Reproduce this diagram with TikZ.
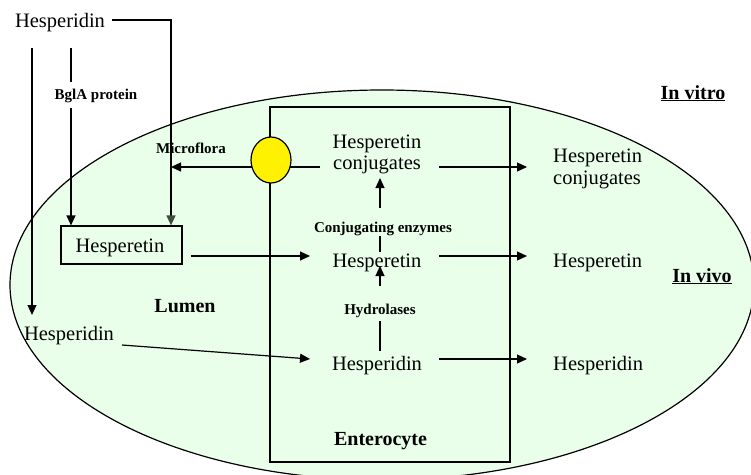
\documentclass[tikz,border=0pt]{standalone}
\usepackage{fontspec}
\setmainfont{Liberation Serif}
\usetikzlibrary{arrows.meta,shapes.geometric}
\definecolor{lumen}{RGB}{234,255,234}
\definecolor{tipgray}{RGB}{60,78,60}
\begin{document}
\begin{tikzpicture}[x=1pt,y=-1pt,
  txt/.style={font=\fontsize{20.5}{22}\selectfont, inner sep=0pt, align=center},
  lab/.style={font=\fontsize{15}{16}\selectfont\bfseries, inner sep=0pt},
  big/.style={font=\fontsize{20}{22}\selectfont\bfseries, inner sep=0pt},
  conn/.style={line width=1.2pt},
  arr/.style={conn, -{Triangle[length=10pt,width=9pt]}}]
\useasboundingbox (0,0) rectangle (751,474);
% lumen ellipse
\fill[lumen, draw=black, line width=1.2pt] (382,285) ellipse [x radius=372, y radius=195];
% enterocyte
\node[draw, line width=1.2pt, minimum width=240, minimum height=355, inner sep=0pt] (ent) at (390,284.5) {};
% texts
\node[txt, anchor=base] (hdTop) at (60,27) {Hesperidin};
\node[draw, line width=1.2pt, fill=lumen, minimum width=121, minimum height=38, inner sep=0pt] (box) at (121.5,245) {};
\node[txt, anchor=base] (heBox) at (120,252) {Hesperetin};
\node[txt, anchor=base] (hdL) at (69,340) {Hesperidin};
\node[txt, anchor=base] (hcC1) at (377,148) {Hesperetin};
\node[txt, anchor=base] (hcC2) at (377,169) {conjugates};
\node[txt, anchor=base] (heC) at (377,267) {Hesperetin};
\node[txt, anchor=base] (hdC) at (377,370) {Hesperidin};
\node[txt, anchor=base west] (hcR1) at (553,162) {Hesperetin};
\node[txt, anchor=base west] (hcR2) at (553,184) {conjugates};
\node[txt, anchor=base west] (heR) at (553,267) {Hesperetin};
\node[txt, anchor=base west] (hdR) at (553,370) {Hesperidin};
\node[lab, anchor=base] (bgl) at (96,99) {BglA protein};
\node[lab, anchor=base] (micro) at (191,153) {Microflora};
\node[lab, anchor=base] (conj) at (383,232) {Conjugating enzymes};
\node[lab, anchor=base] (hydro) at (380,314) {Hydrolases};
\node[big, anchor=base] (lumenlab) at (185,312) {Lumen};
\node[big, anchor=base] (entlab) at (380.5,445) {Enterocyte};
\node[big, anchor=base] (vitro) at (693,99) {\underline{In vitro}};
\node[big, anchor=base] (vivo) at (702,282) {\underline{In vivo}};
% coordinates
\coordinate (topL) at (112,20);
\coordinate (topR) at (171,20);
\coordinate (mfEnd) at (171,167);
\coordinate (hcW) at (320,167);
\coordinate (hcE) at (439,167);
\coordinate (hcRW) at (527,167);
% connectors
\draw[conn, -{Triangle[length=10pt,width=9pt,fill=tipgray,color=tipgray]}] (topL) -- (topR) -- (topR |- box.north);
\draw[arr] (32,48) -- (32,315);
\draw[conn] (71,48) -- (71,82);
\draw[arr] (71,108) -- (71,0 |- box.north);
\draw[arr] (hcW) -- (mfEnd);
\draw[arr] (hcE) -- (hcRW);
\draw[arr] (box.east |- 0,256) ++(8,0) -- (310,256);
\draw[arr] (439,256) -- (527,256);
\draw[arr] (122,345) -- (310,359);
\draw[arr] (439,359) -- (527,359);
\draw[conn] (380,351) -- (380,321);
\draw[arr] (380,286) -- (380,266);
\draw[conn] (380,252) -- (380,236);
\draw[arr] (380,208) -- (380,178);
% microflora circle
\node[ellipse, draw, line width=1.2pt, fill=yellow, minimum width=40, minimum height=46, inner sep=0pt] (mf) at (271,160) {};
\end{tikzpicture}
\end{document}
